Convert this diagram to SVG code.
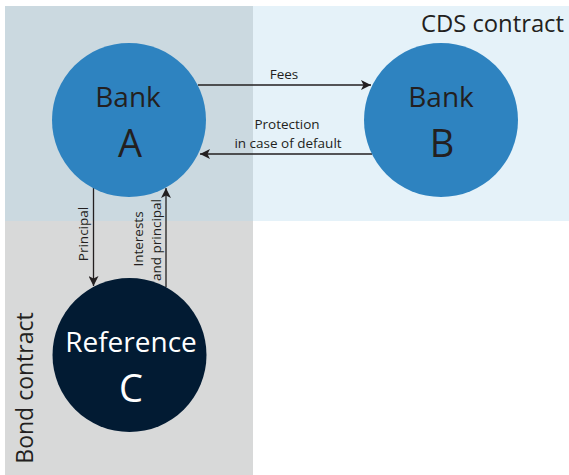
<svg xmlns="http://www.w3.org/2000/svg" width="569" height="475" viewBox="0 0 569 475">
  <style>
    .lbl { font-family: "Open Sans", "Liberation Sans", sans-serif; fill: #231f20; }
    .small { font-size: 13.5px; }
    .title { font-size: 23px; }
    .name { font-family: "Open Sans", "Liberation Sans", sans-serif; font-size: 28px; text-anchor: middle; }
    .letter { font-family: "Open Sans", "Liberation Sans", sans-serif; font-size: 38px; text-anchor: middle; }
    .conn { stroke: #231f20; stroke-width: 1.3; fill: none; marker-end: url(#arrow); }
  </style>
  <defs>
    <marker id="arrow" viewBox="0 0 10 10" refX="10" refY="5" markerWidth="10" markerHeight="10" markerUnits="userSpaceOnUse" orient="auto">
      <path d="M0,0 L10,5 L0,10 L2.5,5 Z" fill="#231f20"/>
    </marker>
  </defs>

  <!-- contract areas -->
  <g id="areas">
    <rect x="5" y="6" width="564" height="215" fill="#e5f2f9"/>
    <rect x="5" y="221" width="248" height="254" fill="#d8d9d9"/>
    <rect x="5" y="6" width="248" height="215" fill="#cbd9e0"/>
    <text class="lbl title" x="564" y="32" text-anchor="end" style="font-size:23.8px">CDS contract</text>
    <text class="lbl title" transform="translate(33,388) rotate(-90)" text-anchor="middle">Bond contract</text>
  </g>

  <!-- connectors -->
  <g id="connectors">
    <line class="conn" x1="198" y1="85" x2="371" y2="85"/>
    <text class="lbl small" x="284" y="79" text-anchor="middle">Fees</text>
    <line class="conn" x1="372" y1="154" x2="200" y2="154"/>
    <text class="lbl small" x="287" y="129" text-anchor="middle">Protection</text>
    <text class="lbl small" x="288" y="147.5" text-anchor="middle">in case of default</text>
    <line class="conn" x1="93.5" y1="188" x2="93.5" y2="286"/>
    <text class="lbl small" transform="translate(88,234) rotate(-90)" text-anchor="middle">Principal</text>
    <line class="conn" x1="166" y1="287" x2="166" y2="188"/>
    <text class="lbl small" transform="translate(143,239) rotate(-90)" text-anchor="middle">Interests</text>
    <text class="lbl small" transform="translate(161,240) rotate(-90)" text-anchor="middle">and principal</text>
  </g>

  <g id="bank-a">
    <circle cx="129" cy="120" r="77" fill="#2e83c0"/>
    <text class="name" x="128" y="107" fill="#231f20">Bank</text>
    <text class="letter" x="130" y="157" fill="#231f20">A</text>
  </g>

  <g id="bank-b">
    <circle cx="441" cy="120" r="77" fill="#2e83c0"/>
    <text class="name" x="441" y="107" fill="#231f20">Bank</text>
    <text class="letter" x="442" y="157" fill="#231f20">B</text>
  </g>

  <g id="reference-c">
    <circle cx="129.5" cy="355" r="77" fill="#021b33"/>
    <text class="name" x="131" y="352" fill="#ffffff">Reference</text>
    <text class="letter" x="131" y="402" fill="#ffffff">C</text>
  </g>
</svg>
